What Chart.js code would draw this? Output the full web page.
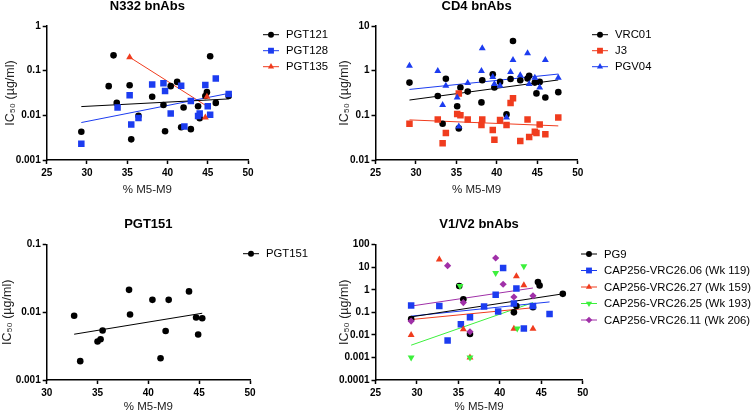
<!DOCTYPE html>
<html>
<head>
<meta charset="utf-8">
<script src="https://cdn.jsdelivr.net/npm/chart.js@4.4.1/dist/chart.umd.min.js"></script>
<style>
  body { margin: 0; background: #fff; }
  #wrap { position: relative; width: 752px; height: 414px; overflow: hidden; background: #fff; }
  canvas { position: absolute; }
</style>
</head>
<body>
<div id="wrap">
  <canvas id="n332" width="334" height="207" style="left:0;top:0"></canvas>
  <canvas id="cd4" width="418" height="207" style="left:334px;top:0"></canvas>
  <canvas id="pgt151" width="334" height="207" style="left:0;top:207px"></canvas>
  <canvas id="v1v2" width="418" height="207" style="left:334px;top:207px"></canvas>
</div>
<script>
// ---- axes ----
const xTicks25 = [25, 30, 35, 40, 45, 50];
const xTicks30 = [30, 35, 40, 45, 50];
const yTicksN332 = [0.001, 0.01, 0.1, 1];
const yLabelsN332 = ['0.001', '0.01', '0.1', '1'];
const yTicksCD4 = [0.01, 0.1, 1, 10];
const yLabelsCD4 = ['0.01', '0.1', '1', '10'];
const yTicksPGT151 = [0.001, 0.01, 0.1];
const yLabelsPGT151 = ['0.001', '0.01', '0.1'];
const yTicksV1V2 = [0.0001, 0.001, 0.01, 0.1, 1, 10, 100];
const yLabelsV1V2 = ['0.0001', '0.001', '0.01', '0.1', '1', '10', '100'];

// ---- N332 bnAbs ----
const pgt121X = [29.3, 33.3, 32.7, 35.3, 33.7, 35.5, 36.4, 38.1, 39.5, 39.7, 40.4, 41.2, 41.7, 42.0, 42.9, 43.8, 44.0, 44.7, 44.9, 45.3, 46.0, 47.6];
const pgt121Y = [0.0043, 0.22, 0.045, 0.047, 0.019, 0.0029, 0.0098, 0.026, 0.017, 0.0044, 0.045, 0.056, 0.0054, 0.015, 0.0049, 0.016, 0.0086, 0.027, 0.033, 0.21, 0.019, 0.027];
const pgt128X = [29.3, 33.8, 35.3, 35.5, 36.4, 38.1, 39.5, 39.7, 40.4, 41.7, 42.1, 42.9, 43.8, 44.0, 44.7, 45.0, 45.3, 46.0, 47.6];
const pgt128Y = [0.0023, 0.015, 0.028, 0.0062, 0.0087, 0.049, 0.052, 0.035, 0.011, 0.046, 0.0056, 0.021, 0.0097, 0.011, 0.048, 0.016, 0.0103, 0.067, 0.030];
const pgt135X = [35.3, 44.7, 44.9];
const pgt135Y = [0.2, 0.009, 0.026];
const fit121X = [29.3, 47.6], fit121Y = [0.0157, 0.0233];
const fit128X = [29.3, 47.6], fit128Y = [0.0069, 0.031];
const fit135X = [35.3, 44.9], fit135Y = [0.2, 0.016];

// ---- CD4 bnAbs ----
const cd4X = [29.2, 32.7, 33.3, 33.7, 35.1, 35.3, 35.5, 36.4, 38.1, 38.2, 39.5, 39.7, 40.4, 41.2, 41.7, 42.0, 42.9, 43.8, 44.0, 44.7, 44.9, 45.3, 46.0, 47.6];
const vrc01Y = [0.54, 0.27, 0.065, 0.66, 0.16, 0.051, 0.42, 0.34, 0.195, 0.61, 0.83, 0.42, 0.56, 0.105, 0.65, 4.6, 0.61, 0.67, 0.77, 0.54, 0.31, 0.56, 0.25, 0.33];
const j3Y = [0.065, 0.081, 0.0236, 0.040, 0.107, 0.31, 0.10, 0.081, 0.061, 0.081, 0.047, 0.0285, 0.079, 0.061, 0.19, 0.24, 0.0266, 0.081, 0.0327, 0.043, 0.040, 0.062, 0.0376, 0.089];
const pgv04X = [29.2, 32.7, 33.3, 33.7, 35.1, 35.3, 36.4, 38.1, 38.2, 39.5, 39.7, 40.4, 41.2, 41.7, 42.0, 42.9, 43.8, 44.0, 44.7, 45.3, 46.0, 47.6];
const pgv04Y = [1.29, 0.98, 0.17, 0.46, 0.25, 0.056, 0.53, 0.98, 3.16, 0.72, 0.5, 0.46, 0.089, 0.93, 1.74, 0.79, 2.44, 0.5, 0.69, 0.42, 1.74, 0.69];
const fitVrc01X = [29.2, 47.6], fitVrc01Y = [0.22, 0.62];
const fitJ3X = [29.2, 47.6], fitJ3Y = [0.079, 0.058];
const fitPgv04X = [29.2, 47.6], fitPgv04Y = [0.38, 0.84];

// ---- PGT151 ----
const pgt151X = [32.7, 33.3, 35.0, 35.3, 35.5, 38.1, 38.2, 40.4, 41.2, 41.7, 42.0, 44.0, 44.7, 44.9, 45.3];
const pgt151Y = [0.0089, 0.0019, 0.0037, 0.0040, 0.0054, 0.0215, 0.0093, 0.0153, 0.0021, 0.0053, 0.0153, 0.0204, 0.0084, 0.0047, 0.0082];
const fit151X = [32.7, 45.3], fit151Y = [0.00475, 0.0097];

// ---- V1/V2 bnAbs ----
const pg9X = [29.3, 35.1, 35.6, 36.4, 41.7, 42.0, 44.0, 44.6, 44.8, 47.6];
const pg9Y = [0.05, 1.48, 0.38, 0.011, 0.10, 0.19, 0.17, 2.2, 1.54, 0.66];
const vrc2606X = [29.3, 32.7, 33.7, 35.3, 36.4, 38.1, 39.5, 39.8, 40.4, 41.7, 42.0, 42.9, 44.0, 46.0];
const vrc2606Y = [0.2, 0.19, 0.0056, 0.03, 0.061, 0.18, 0.61, 0.108, 9.3, 0.245, 1.13, 0.019, 0.19, 0.085];
const vrc2627X = [29.3, 32.7, 35.6, 36.4, 41.7, 42.0, 42.9, 44.0];
const vrc2627Y = [0.0098, 22, 0.018, 0.001, 0.0186, 4.0, 1.58, 0.0186];
const vrc2625X = [29.3, 35.2, 36.4, 39.5, 42.1, 42.9];
const vrc2625Y = [0.001, 1.48, 0.001, 5.6, 0.019, 11];
const vrc2611X = [29.3, 33.7, 35.6, 36.4, 39.5, 40.4, 41.7, 44.0];
const vrc2611Y = [0.041, 11.8, 0.27, 0.0138, 25.7, 1.76, 0.48, 0.54];
const fitPg9X = [29.3, 47.6], fitPg9Y = [0.063, 0.66];
const fit2606X = [29.3, 46.0], fit2606Y = [0.068, 0.29];
const fit2627X = [29.3, 44.0], fit2627Y = [0.048, 0.16];
const fit2625X = [29.3, 44.0], fit2625Y = [0.0035, 0.27];
const fit2611X = [29.3, 44.0], fit2611Y = [0.19, 1.2];

const BLACK = '#000000', BLUE = '#1c3cf0', RED = '#f03c1e', GREEN = '#3cf03c', PURPLE = '#a030a8';
const FONT = "'Liberation Sans', Arial, Helvetica, sans-serif";
Chart.defaults.font.family = FONT;
Chart.defaults.color = '#000';

function pts(xs, ys) {
    return xs.map((x, i) => ({ x: x, y: ys[i] }));
}

// points of one antibody
function serie(label, xs, ys, color, style, radius, rotation, order) {
    return {
        label: label,
        data: pts(xs, ys),
        backgroundColor: color,
        borderColor: color,
        pointStyle: style,
        pointRadius: radius,
        pointRotation: rotation || 0,
        pointBorderWidth: 0,
        showLine: false,
        order: order
    };
}

// regression line (two ends)
function fit(xs, ys, color) {
    return {
        label: '',
        isFit: true,
        data: pts(xs, ys),
        borderColor: color,
        borderWidth: 1,
        showLine: true,
        pointRadius: 0,
        order: 20
    };
}

// legend like GraphPad: short line with the marker in the middle
const lineLegend = {
    id: 'lineLegend',
    afterDraw(chart, args, o) {
        const ctx = chart.ctx;
        const items = chart.data.datasets.filter(d => !d.isFit);
        ctx.save();
        items.forEach((d, i) => {
            const y = o.y + i * o.step;
            ctx.strokeStyle = d.borderColor;
            ctx.fillStyle = d.backgroundColor;
            ctx.lineWidth = 1;
            ctx.beginPath();
            ctx.moveTo(o.x, y);
            ctx.lineTo(o.x + 16, y);
            ctx.stroke();
            Chart.helpers.drawPoint(ctx, {
                pointStyle: d.pointStyle,
                radius: d.pointRadius * 0.9,
                rotation: d.pointRotation,
                borderWidth: 0
            }, o.x + 8, y);
            ctx.fillStyle = '#000';
            ctx.font = '11.3px ' + FONT;
            ctx.textBaseline = 'middle';
            ctx.textAlign = 'left';
            ctx.fillText(d.label, o.x + 23, y + 0.5);
        });
        ctx.restore();
    }
};

function makePanel(id, p) {
    new Chart(document.getElementById(id), {
        type: 'scatter',
        data: { datasets: p.datasets },
        options: {
            responsive: false,
            animation: false,
            layout: { padding: p.pad },
            plugins: {
                legend: { display: false },
                tooltip: { enabled: false },
                title: {
                    display: true,
                    text: p.title,
                    fullSize: false,
                    color: '#000',
                    font: { size: 13, weight: 'bold', lineHeight: 1 },
                    padding: { top: p.titleTop, bottom: p.titleBottom }
                },
                lineLegend: p.legend
            },
            scales: {
                x: {
                    type: 'linear',
                    min: p.xTicks[0],
                    max: p.xTicks[p.xTicks.length - 1],
                    afterBuildTicks: s => { s.ticks = p.xTicks.map(v => ({ value: v })); },
                    afterFit: s => { s.height = p.xHeight; },
                    ticks: { color: '#000', padding: 3, maxRotation: 0, autoSkip: false, font: { size: 10, weight: 'bold' } },
                    grid: { drawOnChartArea: false, tickLength: 4, tickWidth: 1.5, tickColor: '#000' },
                    border: { color: '#000', width: 1.5 },
                    title: { display: true, text: '% M5-M9', color: '#222', font: { size: 11.5, lineHeight: 1.2 }, padding: { top: 0, bottom: p.xTitlePad } }
                },
                y: {
                    type: 'logarithmic',
                    min: p.yTicks[0],
                    max: p.yTicks[p.yTicks.length - 1],
                    afterBuildTicks: s => { s.ticks = p.yTicks.map(v => ({ value: v })); },
                    afterFit: s => { s.width = p.yWidth; },
                    ticks: { color: '#000', padding: 2, autoSkip: false, font: { size: 10, weight: 'bold' },
                             callback: (v, i) => p.yLabels[i] },
                    grid: { drawOnChartArea: false, tickLength: 4, tickWidth: 1.5, tickColor: '#000' },
                    border: { color: '#000', width: 1.5 },
                    title: { display: true, text: 'IC₅₀ (µg/ml)', color: '#222', font: { size: 12.5, lineHeight: 1.2 }, padding: { top: p.yTitlePad, bottom: 0 } }
                }
            }
        },
        plugins: [lineLegend]
    });
}

makePanel('n332', {
    title: 'N332 bnAbs',
    datasets: [
        serie('PGT121', pgt121X, pgt121Y, BLACK, 'circle', 3.3, 0, 3),
        serie('PGT128', pgt128X, pgt128Y, BLUE, 'rect', 4.6, 0, 2),
        serie('PGT135', pgt135X, pgt135Y, RED, 'triangle', 4, 0, 1),
        fit(fit121X, fit121Y, BLACK),
        fit(fit128X, fit128Y, BLUE),
        fit(fit135X, fit135Y, RED)
    ],
    xTicks: xTicks25, yTicks: yTicksN332, yLabels: yLabelsN332,
    pad: { left: 0, right: 86, top: 0, bottom: 7 },
    titleTop: 0, titleBottom: 13, xHeight: 40, xTitlePad: 3, yWidth: 46.7, yTitlePad: 3,
    legend: { x: 263, y: 34.7, step: 16 }
});

makePanel('cd4', {
    title: 'CD4 bnAbs',
    datasets: [
        serie('VRC01', cd4X, vrc01Y, BLACK, 'circle', 3.3, 0, 3),
        serie('J3', cd4X, j3Y, RED, 'rect', 4.6, 0, 2),
        serie('PGV04', pgv04X, pgv04Y, BLUE, 'triangle', 4, 0, 1),
        fit(fitVrc01X, fitVrc01Y, BLACK),
        fit(fitJ3X, fitJ3Y, RED),
        fit(fitPgv04X, fitPgv04Y, BLUE)
    ],
    xTicks: xTicks25, yTicks: yTicksCD4, yLabels: yLabelsCD4,
    pad: { left: 0, right: 174.3, top: 0, bottom: 7 },
    titleTop: 0, titleBottom: 13, xHeight: 40, xTitlePad: 3, yWidth: 41.5, yTitlePad: 3,
    legend: { x: 258, y: 34.7, step: 16 }
});

makePanel('pgt151', {
    title: 'PGT151',
    datasets: [
        serie('PGT151', pgt151X, pgt151Y, BLACK, 'circle', 3.3, 0, 1),
        fit(fit151X, fit151Y, BLACK)
    ],
    xTicks: xTicks30, yTicks: yTicksPGT151, yLabels: yLabelsPGT151,
    pad: { left: 0, right: 84, top: 0, bottom: 0 },
    titleTop: 10.5, titleBottom: 14.2, xHeight: 34, xTitlePad: 0, yWidth: 46.7, yTitlePad: 0,
    legend: { x: 243, y: 46.7, step: 16 }
});

makePanel('v1v2', {
    title: 'V1/V2 bnAbs',
    datasets: [
        serie('PG9', pg9X, pg9Y, BLACK, 'circle', 3.3, 0, 5),
        serie('CAP256-VRC26.06 (Wk 119)', vrc2606X, vrc2606Y, BLUE, 'rect', 4.6, 0, 4),
        serie('CAP256-VRC26.27 (Wk 159)', vrc2627X, vrc2627Y, RED, 'triangle', 4, 0, 3),
        serie('CAP256-VRC26.25 (Wk 193)', vrc2625X, vrc2625Y, GREEN, 'triangle', 4, 180, 2),
        serie('CAP256-VRC26.11 (Wk 206)', vrc2611X, vrc2611Y, PURPLE, 'rectRot', 3.6, 0, 1),
        fit(fitPg9X, fitPg9Y, BLACK),
        fit(fit2606X, fit2606Y, BLUE),
        fit(fit2627X, fit2627Y, RED),
        fit(fit2625X, fit2625Y, GREEN),
        fit(fit2611X, fit2611Y, PURPLE)
    ],
    xTicks: xTicks25, yTicks: yTicksV1V2, yLabels: yLabelsV1V2,
    pad: { left: 0, right: 169.3, top: 0, bottom: 0 },
    titleTop: 10.5, titleBottom: 14.2, xHeight: 34, xTitlePad: 0, yWidth: 41.5, yTitlePad: 3,
    legend: { x: 247, y: 47, step: 16.5 }
});
</script>
</body>
</html>
